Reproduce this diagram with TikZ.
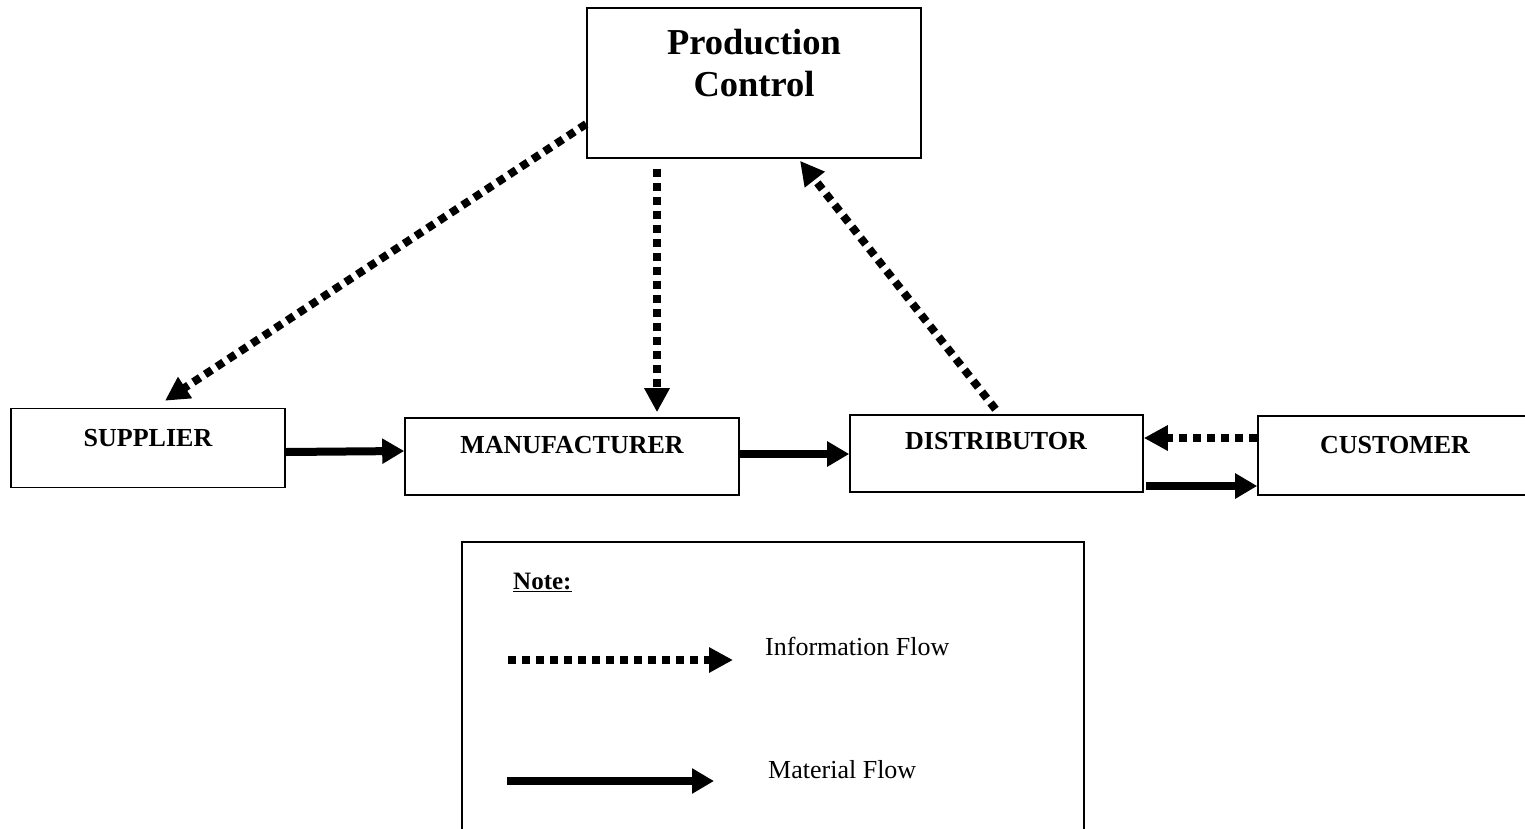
\documentclass[tikz,border=0pt]{standalone}
\usepackage{fontspec}
\setmainfont{Liberation Serif}
\usetikzlibrary{arrows.meta}
\tikzset{
  box/.style={draw, line width=1.6pt, rectangle, inner sep=0pt},
  lbl/.style={font=\fontsize{26}{30}\selectfont\bfseries, inner sep=0pt},
  info/.style={line width=8pt, dash pattern=on 8pt off 6pt, -{Triangle[length=24pt,width=24pt]}},
  mat/.style={line width=8pt, -{Triangle[length=22pt,width=24pt]}},
}
\begin{document}
\begin{tikzpicture}[x=1pt,y=-1pt]
\useasboundingbox (0,0) rectangle (1525,828);
% boxes
\node[box, minimum width=334pt, minimum height=150pt] (pc) at (754,83) {};
\node[lbl, font=\fontsize{36.5}{42}\selectfont\bfseries, align=center] (pct) at (754,63) {Production\\Control};
\node[box, minimum width=274pt, minimum height=79pt] (sup) at (148,448) {};
\node[lbl] (supt) at (148,438) {SUPPLIER};
\node[box, minimum width=334pt, minimum height=77pt] (man) at (572,456.5) {};
\node[lbl] (mant) at (572,445) {MANUFACTURER};
\node[box, minimum width=293pt, minimum height=77pt] (dist) at (996.5,453.5) {};
\node[lbl] (distt) at (996,441) {DISTRIBUTOR};
\node[box, minimum width=290pt, minimum height=79pt] (cust) at (1403,455.5) {};
\node[lbl] (custt) at (1395,445) {CUSTOMER};
% legend
\node[box, minimum width=622pt, minimum height=310pt] (legend) at (773,697) {};
\node[font=\fontsize{25}{30}\selectfont\bfseries, inner sep=0pt, anchor=west] (note) at (513,582) {\underline{Note:}};
\node[font=\fontsize{26}{30}\selectfont, inner sep=0pt, anchor=west] (infot) at (765,646) {Information Flow};
\node[font=\fontsize{26}{30}\selectfont, inner sep=0pt, anchor=west] (matt) at (768,770) {Material Flow};
\coordinate (i1) at (508,660);
\coordinate (i2) at (733,660);
\coordinate (m1) at (507,781);
\coordinate (m2) at (714,781);
\draw[info] (i1) -- (i2);
\draw[mat] (m1) -- (m2);
% information flows
\draw[info] ([yshift=-41pt]pc.west) -- ([xshift=17pt,yshift=7pt]sup.north);
\draw[info] ([xshift=-97pt,yshift=-10pt]pc.south) -- ([xshift=85pt,yshift=5pt]man.north);
\draw[info] ([xshift=-1pt,yshift=5pt]dist.north) -- ([xshift=46pt,yshift=-2pt]pc.south);
\draw[info] ([yshift=17.5pt]cust.west) -- ([yshift=15.5pt]dist.east);
% material flows
\draw[mat] ([yshift=-4pt]sup.east) -- ([yshift=5.5pt]man.west);
\draw[mat] ([yshift=2.5pt]man.east) -- ([yshift=-0.5pt]dist.west);
\draw[mat] ([xshift=2pt,yshift=-32.5pt]dist.east) -- ([yshift=-30.5pt]cust.west);
\end{tikzpicture}
\end{document}
